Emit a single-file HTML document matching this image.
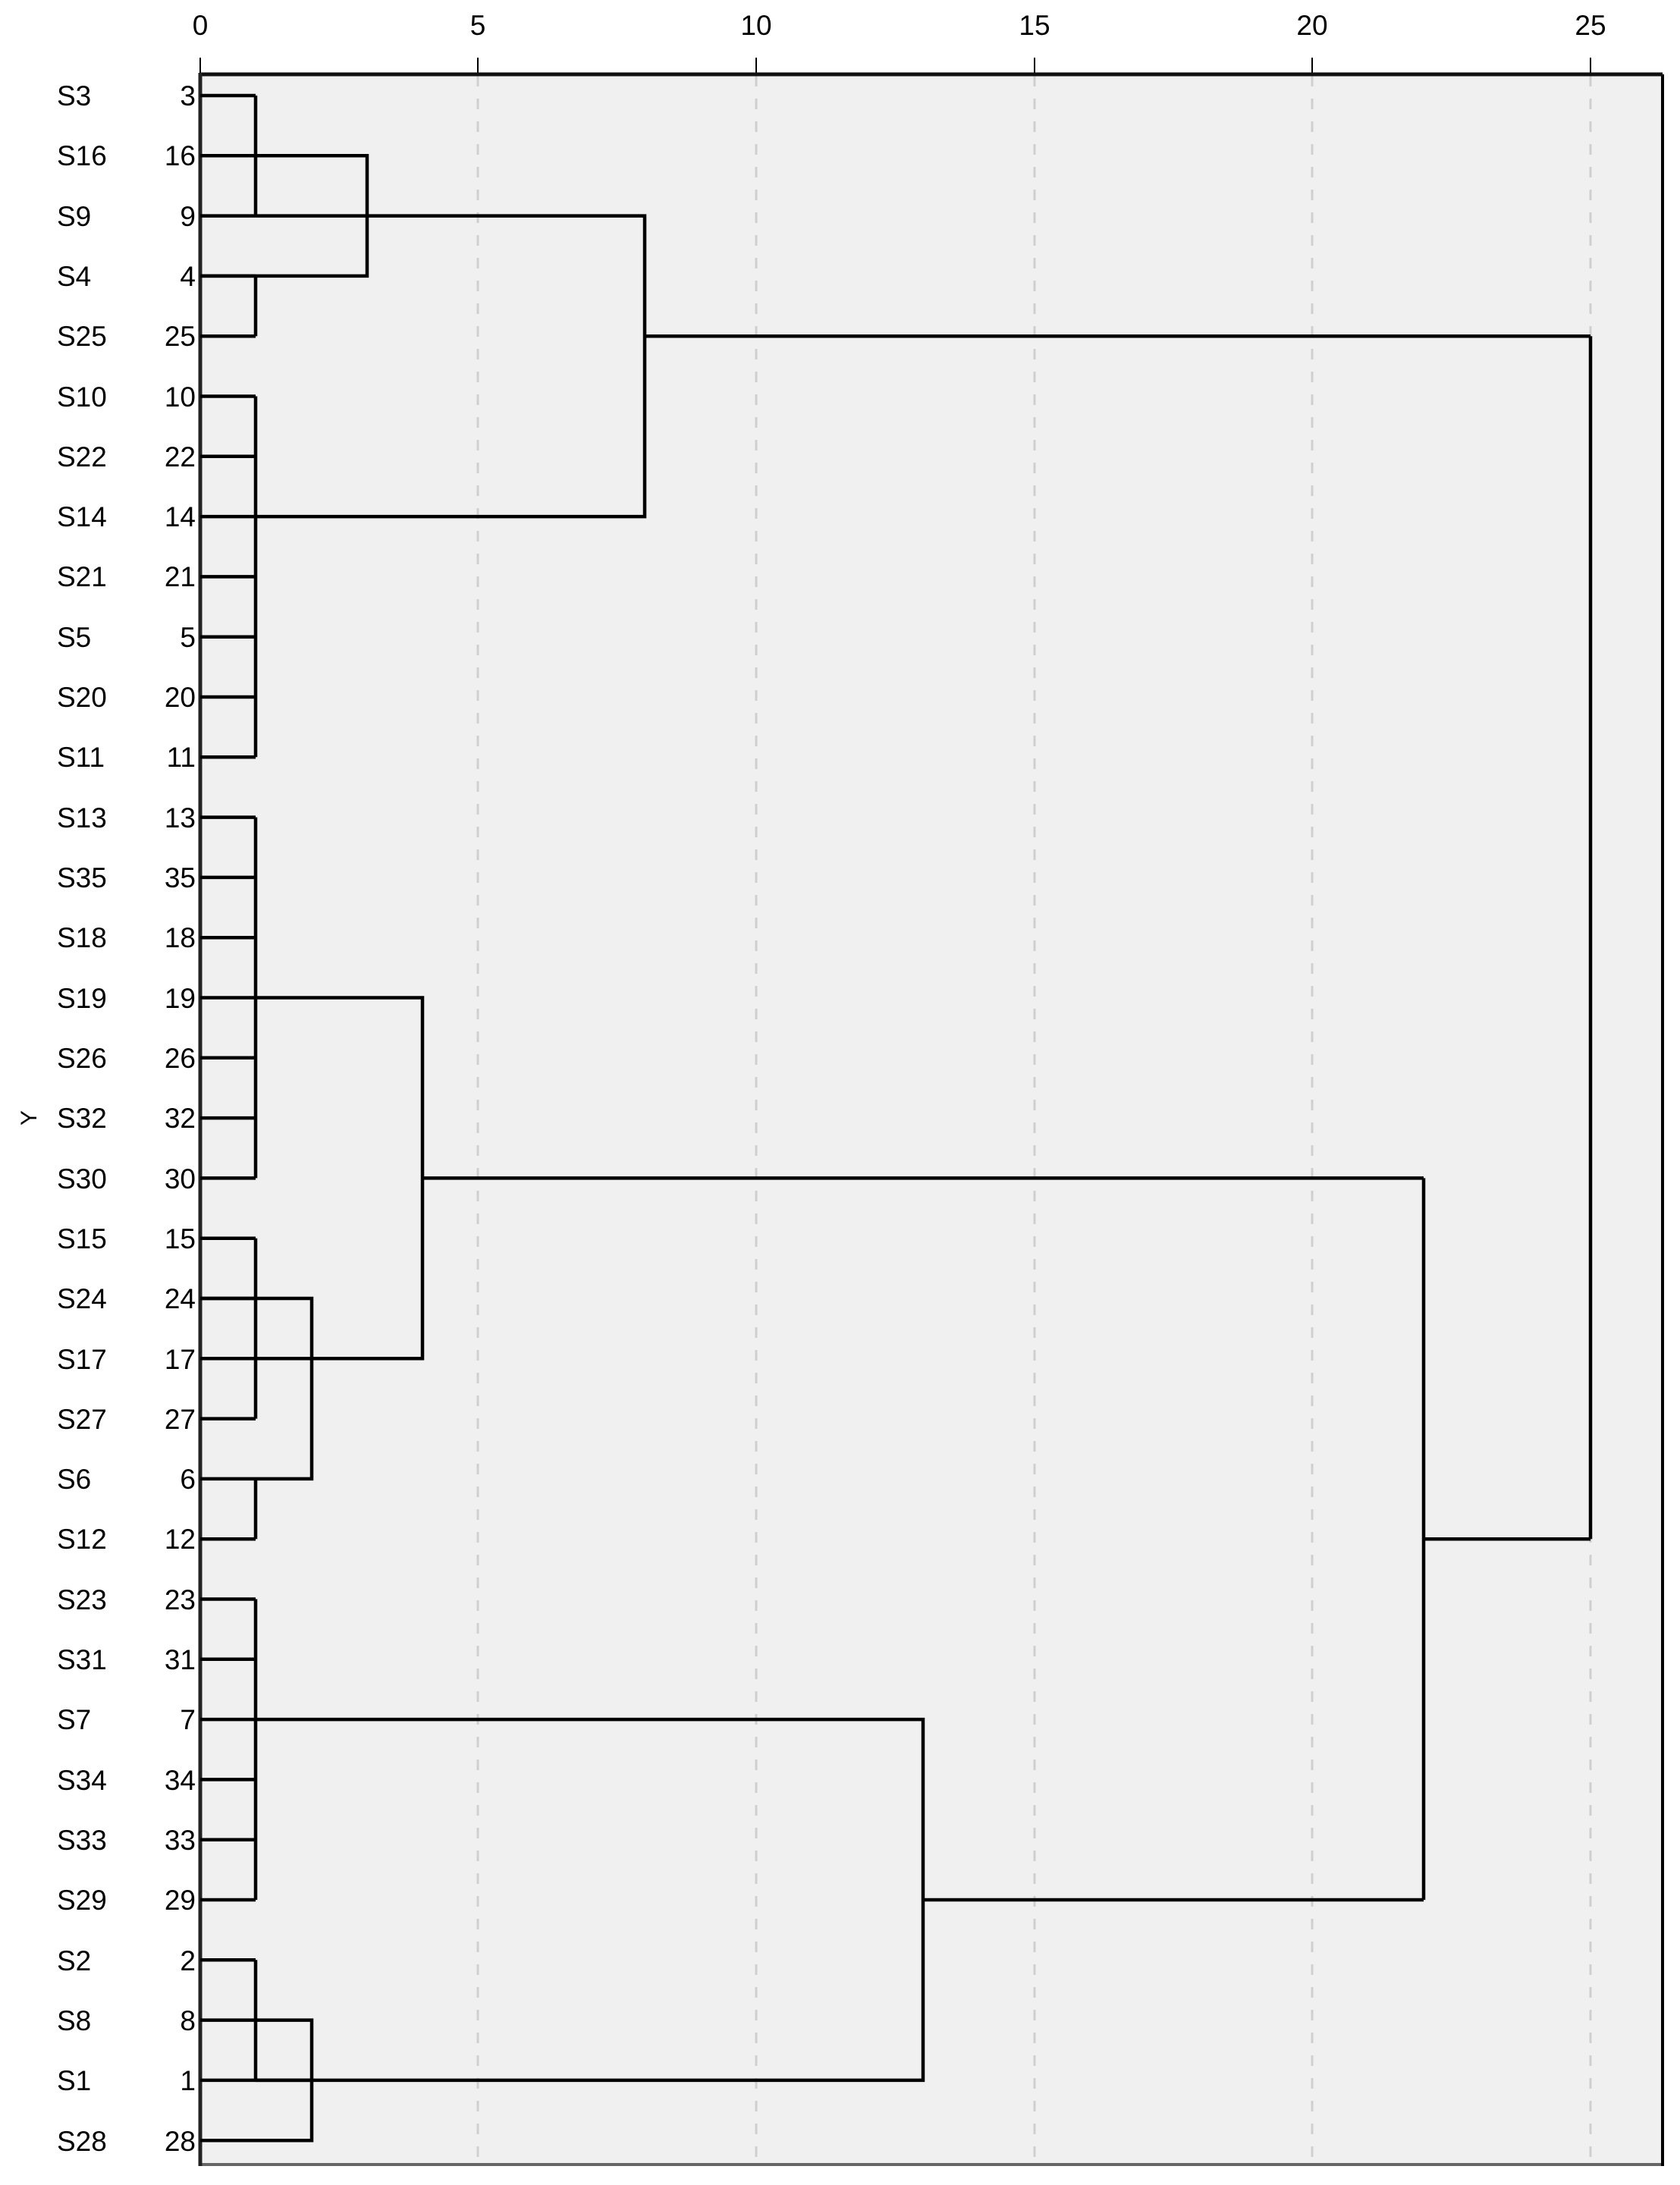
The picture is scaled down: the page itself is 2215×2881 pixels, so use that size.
<!DOCTYPE html>
<html><head><meta charset="utf-8"><style>
html,body{margin:0;padding:0;background:#fff;}
svg{display:block;}
text{font-family:"Liberation Sans",sans-serif;font-size:37px;fill:#000;}
</style></head><body>
<svg width="2215" height="2881" viewBox="0 0 2215 2881" xmlns="http://www.w3.org/2000/svg">
<rect x="264" y="98" width="1928" height="2756" fill="#f0f0f0"/>
<g stroke="#cfcfcf" stroke-width="3" stroke-dasharray="14,16">
<line x1="630" y1="100" x2="630" y2="2852"/><line x1="997" y1="100" x2="997" y2="2852"/><line x1="1364" y1="100" x2="1364" y2="2852"/><line x1="1730" y1="100" x2="1730" y2="2852"/><line x1="2097" y1="100" x2="2097" y2="2852"/>
</g>
<g stroke="#000" stroke-width="2">
<line x1="264" y1="76" x2="264" y2="98"/><line x1="630" y1="76" x2="630" y2="98"/><line x1="997" y1="76" x2="997" y2="98"/><line x1="1364" y1="76" x2="1364" y2="98"/><line x1="1730" y1="76" x2="1730" y2="98"/><line x1="2097" y1="76" x2="2097" y2="98"/>
</g>
<g text-anchor="middle">
<text x="264" y="46">0</text><text x="630" y="46">5</text><text x="997" y="46">10</text><text x="1364" y="46">15</text><text x="1730" y="46">20</text><text x="2097" y="46">25</text>
</g>
<line x1="264" y1="2854" x2="2192" y2="2854" stroke="#666" stroke-width="4"/>
<line x1="2192" y1="98" x2="2192" y2="2856" stroke="#000" stroke-width="4"/>
<line x1="264" y1="98" x2="2192" y2="98" stroke="#111" stroke-width="5"/>
<line x1="264" y1="96" x2="264" y2="2856" stroke="#222" stroke-width="5"/>
<g fill="none" stroke="#000" stroke-width="4.5">
<path d="M264 126H337M264 284.6H337M264 363.9H337M264 443.2H337
M264 522.5H337M264 601.8H337M264 681.1H337M264 760.4H337M264 839.7H337M264 919H337M264 998.3H337
M264 1077.6H337M264 1156.9H337M264 1236.2H337M264 1315.5H337M264 1394.8H337M264 1474.1H337M264 1553.4H337
M264 1632.7H337M264 1712H337M264 1791.3H337M264 1870.6H337M264 1949.9H337M264 2029.2H337
M264 2108.5H337M264 2187.8H337M264 2267.1H337M264 2346.4H337M264 2425.7H337M264 2505H337
M264 2584.3H337M264 2742.9H337"/>
<path d="M337 126V284.6M337 363.9V443.2M337 522.5V998.3M337 1077.6V1553.4M337 1632.7V1870.6M337 1949.9V2029.2M337 2108.5V2505M337 2584.3V2742.9"/>
<path d="M264 205.3H484V363.9H264M337 284.6H484"/>
<path d="M484 284.6H850V681.1H337"/>
<path d="M850 443.2H2097"/>
<path d="M337 1315.5H557V1791.3H337"/>
<path d="M264 1712H411V1949.9H337M337 1791.3H411"/>
<path d="M557 1553.4H1877"/>
<path d="M337 2267.1H1217V2742.9H337"/>
<path d="M264 2663.6H411V2822.2H264M337 2742.9H411"/>
<path d="M1217 2505H1877"/>
<path d="M1877 1553.4V2505M1877 2029.2H2097M2097 443.2V2029.2"/>
</g>
<g>
<text x="75" y="139">S3</text><text x="75" y="218">S16</text><text x="75" y="298">S9</text><text x="75" y="377">S4</text><text x="75" y="456">S25</text><text x="75" y="536">S10</text><text x="75" y="615">S22</text><text x="75" y="694">S14</text><text x="75" y="773">S21</text><text x="75" y="853">S5</text><text x="75" y="932">S20</text><text x="75" y="1011">S11</text><text x="75" y="1091">S13</text><text x="75" y="1170">S35</text><text x="75" y="1249">S18</text><text x="75" y="1329">S19</text><text x="75" y="1408">S26</text><text x="75" y="1487">S32</text><text x="75" y="1567">S30</text><text x="75" y="1646">S15</text><text x="75" y="1725">S24</text><text x="75" y="1805">S17</text><text x="75" y="1884">S27</text><text x="75" y="1963">S6</text><text x="75" y="2042">S12</text><text x="75" y="2122">S23</text><text x="75" y="2201">S31</text><text x="75" y="2280">S7</text><text x="75" y="2360">S34</text><text x="75" y="2439">S33</text><text x="75" y="2518">S29</text><text x="75" y="2598">S2</text><text x="75" y="2677">S8</text><text x="75" y="2756">S1</text><text x="75" y="2836">S28</text>
</g>
<g text-anchor="end">
<text x="258" y="139">3</text><text x="258" y="218">16</text><text x="258" y="298">9</text><text x="258" y="377">4</text><text x="258" y="456">25</text><text x="258" y="536">10</text><text x="258" y="615">22</text><text x="258" y="694">14</text><text x="258" y="773">21</text><text x="258" y="853">5</text><text x="258" y="932">20</text><text x="258" y="1011">11</text><text x="258" y="1091">13</text><text x="258" y="1170">35</text><text x="258" y="1249">18</text><text x="258" y="1329">19</text><text x="258" y="1408">26</text><text x="258" y="1487">32</text><text x="258" y="1567">30</text><text x="258" y="1646">15</text><text x="258" y="1725">24</text><text x="258" y="1805">17</text><text x="258" y="1884">27</text><text x="258" y="1963">6</text><text x="258" y="2042">12</text><text x="258" y="2122">23</text><text x="258" y="2201">31</text><text x="258" y="2280">7</text><text x="258" y="2360">34</text><text x="258" y="2439">33</text><text x="258" y="2518">29</text><text x="258" y="2598">2</text><text x="258" y="2677">8</text><text x="258" y="2756">1</text><text x="258" y="2836">28</text>
</g>
<text x="0" y="0" transform="translate(48,1474) rotate(-90)" text-anchor="middle" style="font-size:30px">Y</text>
</svg>
</body></html>
